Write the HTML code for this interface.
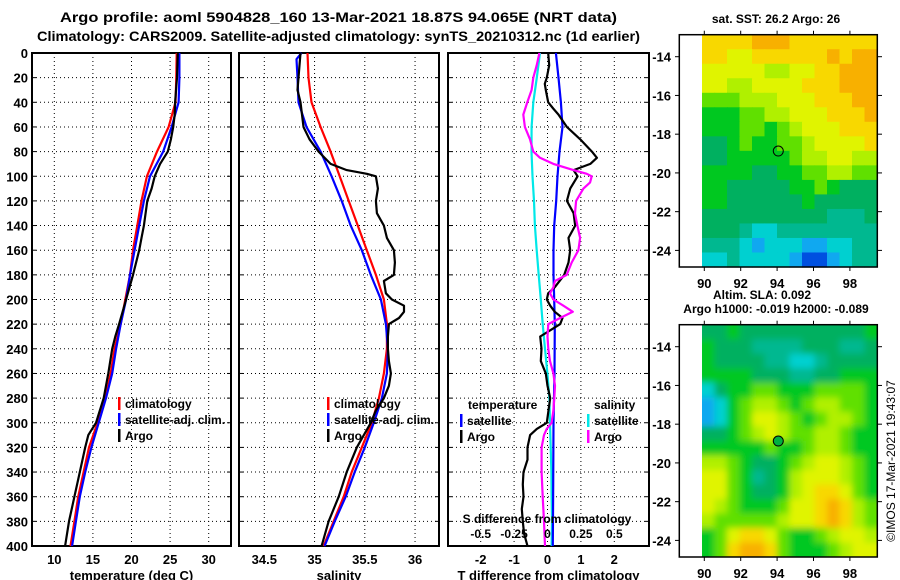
<!DOCTYPE html>
<html><head><meta charset="utf-8">
<style>
html,body{margin:0;padding:0;background:#fff;}
svg{display:block;font-family:"Liberation Sans",Arial,sans-serif;font-weight:bold;}
</style></head>
<body>
<svg id="chart" width="900" height="580" viewBox="0 0 900 580" xmlns="http://www.w3.org/2000/svg">
<defs>
<filter id="blur" x="-0.1" y="-0.1" width="1.2" height="1.2"><feGaussianBlur stdDeviation="3.5"/></filter>
<clipPath id="clipSla"><rect x="702" y="324.7" width="175" height="232.3"/></clipPath>
</defs>
<text x="60" y="22" font-size="14" textLength="557" lengthAdjust="spacingAndGlyphs">Argo profile: aoml 5904828_160 13-Mar-2021 18.87S 94.065E (NRT data)</text>
<text x="37" y="41" font-size="14" textLength="603" lengthAdjust="spacingAndGlyphs">Climatology: CARS2009. Satellite-adjusted climatology: synTS_20210312.nc (1d earlier)</text>
<g id="g"></g>
</svg>
<script>
// ---- data ----
const depthStd = [0,20,40,60,80,100,120,140,160,180,200,220,240,260,280,300,320,340,360,380,400];
const tClim = [25.85,25.8,25.7,24.8,23.3,22.0,21.3,20.75,20.2,19.8,19.2,18.6,17.8,17.3,16.6,15.6,14.5,13.8,13.1,12.6,12.1];
const tSat = [26.2,26.2,26.1,25.2,24.1,22.4,21.6,21.0,20.4,19.8,19.3,18.6,18.0,17.5,16.7,15.75,14.8,14.0,13.3,12.8,12.3];
const tArgoDepth = [0,20,40,50,60,70,80,90,100,110,120,140,150,160,180,200,220,230,240,260,280,300,310,320,340,360,380,400];
const tArgo = [26.0,25.9,25.65,25.6,25.4,25.1,24.7,23.7,23.0,22.6,22.05,21.6,21.3,21.0,20.2,19.3,18.4,17.9,17.5,17.0,16.4,15.4,14.4,14.0,13.3,12.6,11.9,11.4];
const sClim = [34.93,34.94,34.97,35.06,35.16,35.25,35.34,35.43,35.52,35.61,35.69,35.72,35.72,35.69,35.64,35.57,35.47,35.37,35.29,35.19,35.09];
const sSatDepth = [0,5,20,40,60,80,100,120,140,160,180,200,220,240,260,280,300,320,340,360,380,400];
const sSat = [34.87,34.82,34.83,34.84,34.92,35.06,35.17,35.27,35.36,35.47,35.56,35.66,35.71,35.73,35.72,35.67,35.59,35.5,35.4,35.31,35.2,35.1];
const sArgoDepth = [0,10,20,30,40,60,70,80,90,95,98,100,110,120,130,140,150,160,170,180,185,195,200,205,210,215,220,230,240,250,260,270,280,290,300,320,340,360,380,400];
const sArgo = [34.86,34.85,34.84,34.83,34.86,34.89,34.95,35.04,35.16,35.32,35.52,35.61,35.63,35.61,35.62,35.69,35.72,35.79,35.8,35.79,35.69,35.71,35.77,35.89,35.89,35.84,35.74,35.73,35.73,35.74,35.76,35.74,35.69,35.61,35.56,35.42,35.32,35.24,35.14,35.07];
const dTsatDepth = [0,20,40,60,80,100,120,140,160,180,200,220,260,300,350,400];
const dTsat = [0.25,0.33,0.4,0.45,0.36,0.3,0.26,0.2,0.18,0.18,0.2,0.22,0.21,0.18,0.17,0.16];
const dTargoDepth = [0,10,20,25,30,40,45,50,60,70,80,85,90,95,100,110,120,130,140,150,160,170,180,190,195,200,205,210,215,220,225,230,240,250,260,270,280,290,300,305,310,320,330,340,350,360,370,380,390,400];
const dTargo = [0.02,0.05,-0.02,-0.08,-0.05,0.02,0.17,0.33,0.58,0.98,1.33,1.48,1.28,0.78,0.9,0.68,0.58,0.78,0.83,0.63,0.68,0.63,0.5,0.22,0.02,-0.02,0.08,0.22,0.45,0.38,0.08,-0.22,-0.18,-0.2,-0.05,0,0.08,0.03,-0.02,-0.32,-0.52,-0.6,-0.6,-0.72,-0.74,-0.72,-0.77,-0.74,-0.7,-0.6];
const dSsat = [-0.056,-0.08,-0.106,-0.119,-0.12,-0.112,-0.101,-0.094,-0.081,-0.066,-0.05,-0.036,-0.019,-0.001,0.014,0.019,0.024,0.029,0.031,0.034,0.031];
const dSargoDepth = [0,10,20,30,40,50,60,70,80,85,90,95,98,100,105,110,120,130,140,150,160,170,180,185,190,195,200,205,210,215,220,230,240,250,260,270,280,290,300,305,310,320,340,360,380,400];
const dSargo = [-0.061,-0.081,-0.106,-0.119,-0.151,-0.181,-0.169,-0.131,-0.106,-0.056,0.044,0.194,0.294,0.331,0.319,0.269,0.214,0.206,0.224,0.244,0.231,0.181,0.144,0.056,0.044,0.019,0.044,0.119,0.189,0.094,0.006,0,0.006,0.019,0.044,0.056,0.051,0.044,0.031,-0.006,-0.026,-0.044,-0.044,-0.036,-0.026,-0.019];
const depthTicks = [0,20,40,60,80,100,120,140,160,180,200,220,240,260,280,300,320,340,360,380,400];
const tTicks = [10,15,20,25,30];
const sTicks = [34.5,35,35.5,36];
const dtTicks = [-2,-1,0,1,2];
const dsTicks = [-0.5,-0.25,0,0.25,0.5];
const dsTickLabels = ["-0.5","-0.25","0","0.25","0.5"];
const lonTicks = [90,92,94,96,98];
const latTicks = [-14,-16,-18,-20,-22,-24];
const argoLon = 94.065, argoLat = -18.87;
const sstGrid = [
[9,9,9,9,10,10,10,9,9,9,9,9,9,9],
[9,9,8,8,9,9,9,9,9,9,10,9,10,10],
[8,8,8,8,8,7,7,8,8,9,9,10,10,10],
[8,8,7,7,8,8,8,8,9,9,9,10,10,10],
[6,6,6,7,7,7,8,8,8,9,9,9,10,10],
[5,5,5,6,6,7,7,8,8,8,9,9,9,10],
[5,5,5,6,6,5,6,7,8,8,8,9,9,9],
[4,4,5,6,5,5,6,6,7,8,8,8,8,9],
[4,4,5,5,5,5,5,6,7,7,8,8,7,7],
[5,5,5,5,4,4,5,5,6,6,7,7,6,6],
[5,5,4,4,4,4,4,5,5,6,5,4,4,4],
[5,5,4,4,4,4,4,4,5,4,4,4,4,4],
[4,4,4,4,4,4,4,4,4,4,3,3,3,4],
[4,4,4,3,2,2,3,3,3,3,3,3,3,3],
[3,3,3,2,1,2,2,2,1,1,2,2,3,3],
[2,2,3,2,2,2,2,1,0,0,1,2,3,3]];
const slaGrid = [
[4,4,5,4,4,4,4,4,4,4,4,4,4,5],
[5,4,4,4,3,3,3,3,4,4,4,3,3,4],
[5,4,4,4,4,3,3,2,2,3,4,4,4,4],
[5,5,5,5,4,4,4,3,3,4,4,5,5,5],
[2,4,5,5,6,6,5,5,5,6,6,6,6,5],
[1,2,5,6,7,7,6,5,6,7,7,6,6,5],
[1,2,5,6,8,8,7,6,5,6,7,7,6,5],
[4,4,5,6,7,8,7,6,6,7,7,6,5,5],
[5,5,5,5,5,6,5,5,6,7,7,6,5,5],
[7,7,6,5,4,4,5,6,7,8,8,7,6,5],
[8,8,6,5,3,4,5,7,8,8,8,7,6,5],
[8,8,6,5,4,4,5,7,8,9,9,8,6,5],
[8,7,6,5,5,5,6,8,8,9,10,9,7,6],
[7,6,6,6,6,6,7,8,8,9,10,9,7,6],
[5,6,8,9,9,8,6,5,5,6,7,8,8,7],
[5,6,9,10,10,9,6,5,5,5,6,7,8,8]];
const palette = ["#0050e0","#10a8f0","#00d0d0","#00b890","#00b060","#00c820","#60e000","#b0f000","#e0f400","#f8d800","#f8b000"];

// ---- helpers ----
const NS="http://www.w3.org/2000/svg";
const G=document.getElementById('g');
function el(tag,attrs,parent){const e=document.createElementNS(NS,tag);for(const k in attrs)e.setAttribute(k,attrs[k]);(parent||G).appendChild(e);return e;}
const top0=53, bot0=546;
const yD=d=>top0+d*(bot0-top0)/400;
const FS=12;

function panel(name,x0,x1,xTicks,xf,labels,xTitle,showY){
  const grp=el('g',{});
  
  
  depthTicks.forEach(d=>{
    const y=yD(d);
    const l=el('line',{x1:x0,x2:x1,y1:y,y2:y,stroke:'#000','stroke-width':1,'stroke-dasharray':'1,3'},grp);
    
    
    el('line',{x1:x0,x2:x0+4,y1:y,y2:y,stroke:'#000','stroke-width':1},grp);
    el('line',{x1:x1-4,x2:x1,y1:y,y2:y,stroke:'#000','stroke-width':1},grp);
    if(showY){
      const t=el('text',{x:28,y:y+5,'font-size':FS+1,'text-anchor':'end'},grp);
      t.textContent=d;
      
      
    }
  });
  xTicks.forEach((v,i)=>{
    const x=xf(v);
    const l=el('line',{x1:x,x2:x,y1:top0,y2:bot0,stroke:'#000','stroke-width':1,'stroke-dasharray':'1,3'},grp);
    
    
    if(labels){
      const t=el('text',{x:x,y:564,'font-size':FS+1,'text-anchor':'middle'},grp);
      t.textContent=labels[i];
      
      
    }
  });
  const r=el('rect',{x:x0,y:top0,width:x1-x0,height:bot0-top0,fill:'none',stroke:'#000','stroke-width':2},grp);
  
  
  if(xTitle){
    const t=el('text',{x:(x0+x1)/2,y:580,'font-size':FS+1,'text-anchor':'middle'},grp);
    t.textContent=xTitle;
    
    
  }
  return grp;
}
function line(grp,name,depths,vals,xf,color){
  const pts=depths.map((d,i)=>xf(vals[i]).toFixed(1)+','+yD(d).toFixed(1)).join(' ');
  const p=el('polyline',{points:pts,fill:'none',stroke:color,'stroke-width':2.2,'stroke-linejoin':'round'},grp);
  
  
}
function legend(grp,x,y,color,label,name){
  el('rect',{x:x-1,y:y-11,width:2.5,height:13,fill:color},grp);
  const t=el('text',{x:x+6,y:y,'font-size':FS},grp);
  t.textContent=label;
  
  
}

// Panel 1: temperature
const xT=v=>54.3+(v-10)*7.72;
const p1=panel('temperature-panel',32,231,tTicks,xT,tTicks.map(String),'temperature (deg C)',true);
line(p1,'temperature-climatology-line',depthStd,tClim,xT,'#ff0000');
line(p1,'temperature-satellite-line',depthStd,tSat,xT,'#0000ff');
line(p1,'temperature-argo-line',tArgoDepth,tArgo,xT,'#000000');
legend(p1,119,408,'#ff0000','climatology','legend-climatology');
legend(p1,119,424,'#0000ff','satellite-adj. clim.','legend-satellite');
legend(p1,119,440,'#000000','Argo','legend-argo');

// Panel 2: salinity
const xS=v=>264.3+(v-34.5)*100.5;
const p2=panel('salinity-panel',239,439,sTicks,xS,sTicks.map(String),'salinity',false);
line(p2,'salinity-climatology-line',depthStd,sClim,xS,'#ff0000');
line(p2,'salinity-satellite-line',sSatDepth,sSat,xS,'#0000ff');
line(p2,'salinity-argo-line',sArgoDepth,sArgo,xS,'#000000');
legend(p2,328,408,'#ff0000','climatology','legend-climatology');
legend(p2,328,424,'#0000ff','satellite-adj. clim.','legend-satellite');
legend(p2,328,440,'#000000','Argo','legend-argo');

// Panel 3: differences
const xdT=v=>547.5+v*33.4;
const xdS=v=>547.5+v*133.6;
const p3=panel('difference-panel',448,649,dtTicks,xdT,dtTicks.map(String),'T difference from climatology',false);
line(p3,'salinity-satellite-diff-line',depthStd,dSsat,xdS,'#00e8e8');
line(p3,'temperature-satellite-diff-line',dTsatDepth,dTsat,xdT,'#0000ff');
line(p3,'temperature-argo-diff-line',dTargoDepth,dTargo,xdT,'#000000');
line(p3,'salinity-argo-diff-line',dSargoDepth,dSargo,xdS,'#ff00ff');
{const t=el('text',{x:468,y:409,'font-size':FS},p3);t.textContent='temperature';

const t2=el('text',{x:594,y:409,'font-size':FS},p3);t2.textContent='salinity';
}
legend(p3,461,425,'#0000ff','satellite','legend-t-satellite');
legend(p3,461,441,'#000000','Argo','legend-t-argo');
legend(p3,588,425,'#00e8e8','satellite','legend-s-satellite');
legend(p3,588,441,'#ff00ff','Argo','legend-s-argo');
{const t=el('text',{x:547,y:523,'font-size':FS,'text-anchor':'middle'},p3);t.textContent='S difference from climatology';
}
dsTicks.forEach((v,i)=>{const t=el('text',{x:xdS(v),y:538,'font-size':FS,'text-anchor':'middle'},p3);t.textContent=dsTickLabels[i];
});

// Maps
const lonX=lon=>704.3+(lon-90)*18.2;
function map(name,yOff,grid,dotFill,smooth){
  const grp=el('g',{});
  
  
  const latY=lat=>yOff+56.7+(-14-lat)*19.37;
  const rows=grid.length, cols=grid[0].length;
  const x0=702, x1=877, y0=yOff+34.7, y1=yOff+267;
  const cw=(x1-x0)/cols, ch=(y1-y0)/rows;
  let cg=grp;
  if(smooth){
    const outer=el('g',{'clip-path':'url(#clipSla)'},grp);
    cg=el('g',{filter:'url(#blur)'},outer);
  }
  const pad=smooth?14:0;
  grid.forEach((row,r)=>row.forEach((v,c)=>{
    let x=x0+c*cw, y=y0+r*ch, w=cw+0.6, h=ch+0.6;
    if(c===0){x-=pad;w+=pad;} if(c===cols-1){w+=pad;}
    if(r===0){y-=pad;h+=pad;} if(r===rows-1){h+=pad;}
    const cell=el('rect',{x:x.toFixed(2),y:y.toFixed(2),width:w.toFixed(2),height:h.toFixed(2),fill:palette[v]},cg);
    
    
  }));
  const fr=el('rect',{x:679.3,y:y0,width:198,height:y1-y0,fill:'none',stroke:'#000','stroke-width':1.5},grp);
  
  
  lonTicks.forEach(l=>{const x=lonX(l);
    el('line',{x1:x,x2:x,y1:y0,y2:y0-4,stroke:'#000'},grp);
    el('line',{x1:x,x2:x,y1:y1,y2:y1+4,stroke:'#000'},grp);
    const t=el('text',{x:x,y:y1+21,'font-size':FS+1,'text-anchor':'middle'},grp);t.textContent=l;
    });
  latTicks.forEach(l=>{const y=latY(l);
    el('line',{x1:679.3,x2:675,y1:y,y2:y,stroke:'#000'},grp);
    el('line',{x1:877.3,x2:882,y1:y,y2:y,stroke:'#000'},grp);
    const t=el('text',{x:671,y:y+5,'font-size':FS+1,'text-anchor':'end'},grp);t.textContent=l;
    });
  const c=el('circle',{cx:lonX(argoLon),cy:latY(argoLat),r:5,fill:dotFill,stroke:'#000','stroke-width':1},grp);
  
  
}
map('sst-map',0,sstGrid,'none',false);
map('sla-map',290,slaGrid,'#00b040',true);
{const t=el('text',{x:776,y:23,'font-size':FS,'text-anchor':'middle'});t.textContent='sat. SST: 26.2 Argo: 26';

const t2=el('text',{x:762,y:299,'font-size':FS,'text-anchor':'middle'});t2.textContent='Altim. SLA: 0.092';

const t3=el('text',{x:776,y:313,'font-size':FS,'text-anchor':'middle'});t3.textContent='Argo h1000: -0.019 h2000: -0.089';

const t4=el('text',{x:0,y:0,'font-size':12,'font-weight':'normal','text-anchor':'middle',transform:'translate(895,461) rotate(-90)'});t4.textContent='©IMOS 17-Mar-2021 19:43:07';
}
</script>
</body></html>
